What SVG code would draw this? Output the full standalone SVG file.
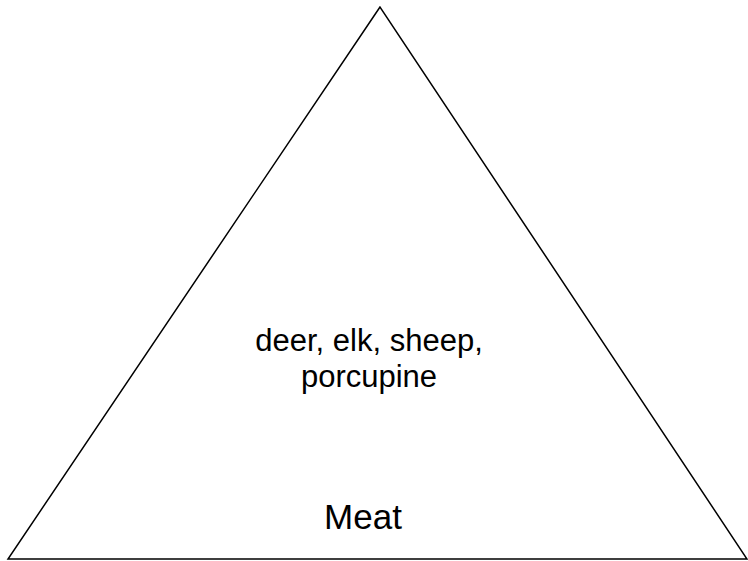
<svg xmlns="http://www.w3.org/2000/svg" width="748" height="561" viewBox="0 0 748 561">
<style>
.t{font-family:"Liberation Sans",Arial,sans-serif;fill:#000;text-anchor:middle}
.s{fill:#fff;stroke:#000;stroke-width:1.5}
</style>
<rect width="748" height="561" fill="#fff"/>
<g id="pyramid">
<polygon class="s" points="380,7 8,559 747,559"/>
<text class="t" x="369" y="351" font-size="31">deer, elk, sheep,</text>
<text class="t" x="369" y="387" font-size="31">porcupine</text>
</g>
<g id="label">
<text class="t" x="363" y="529" font-size="35">Meat</text>
</g>
<g id="connectors"/>
</svg>
